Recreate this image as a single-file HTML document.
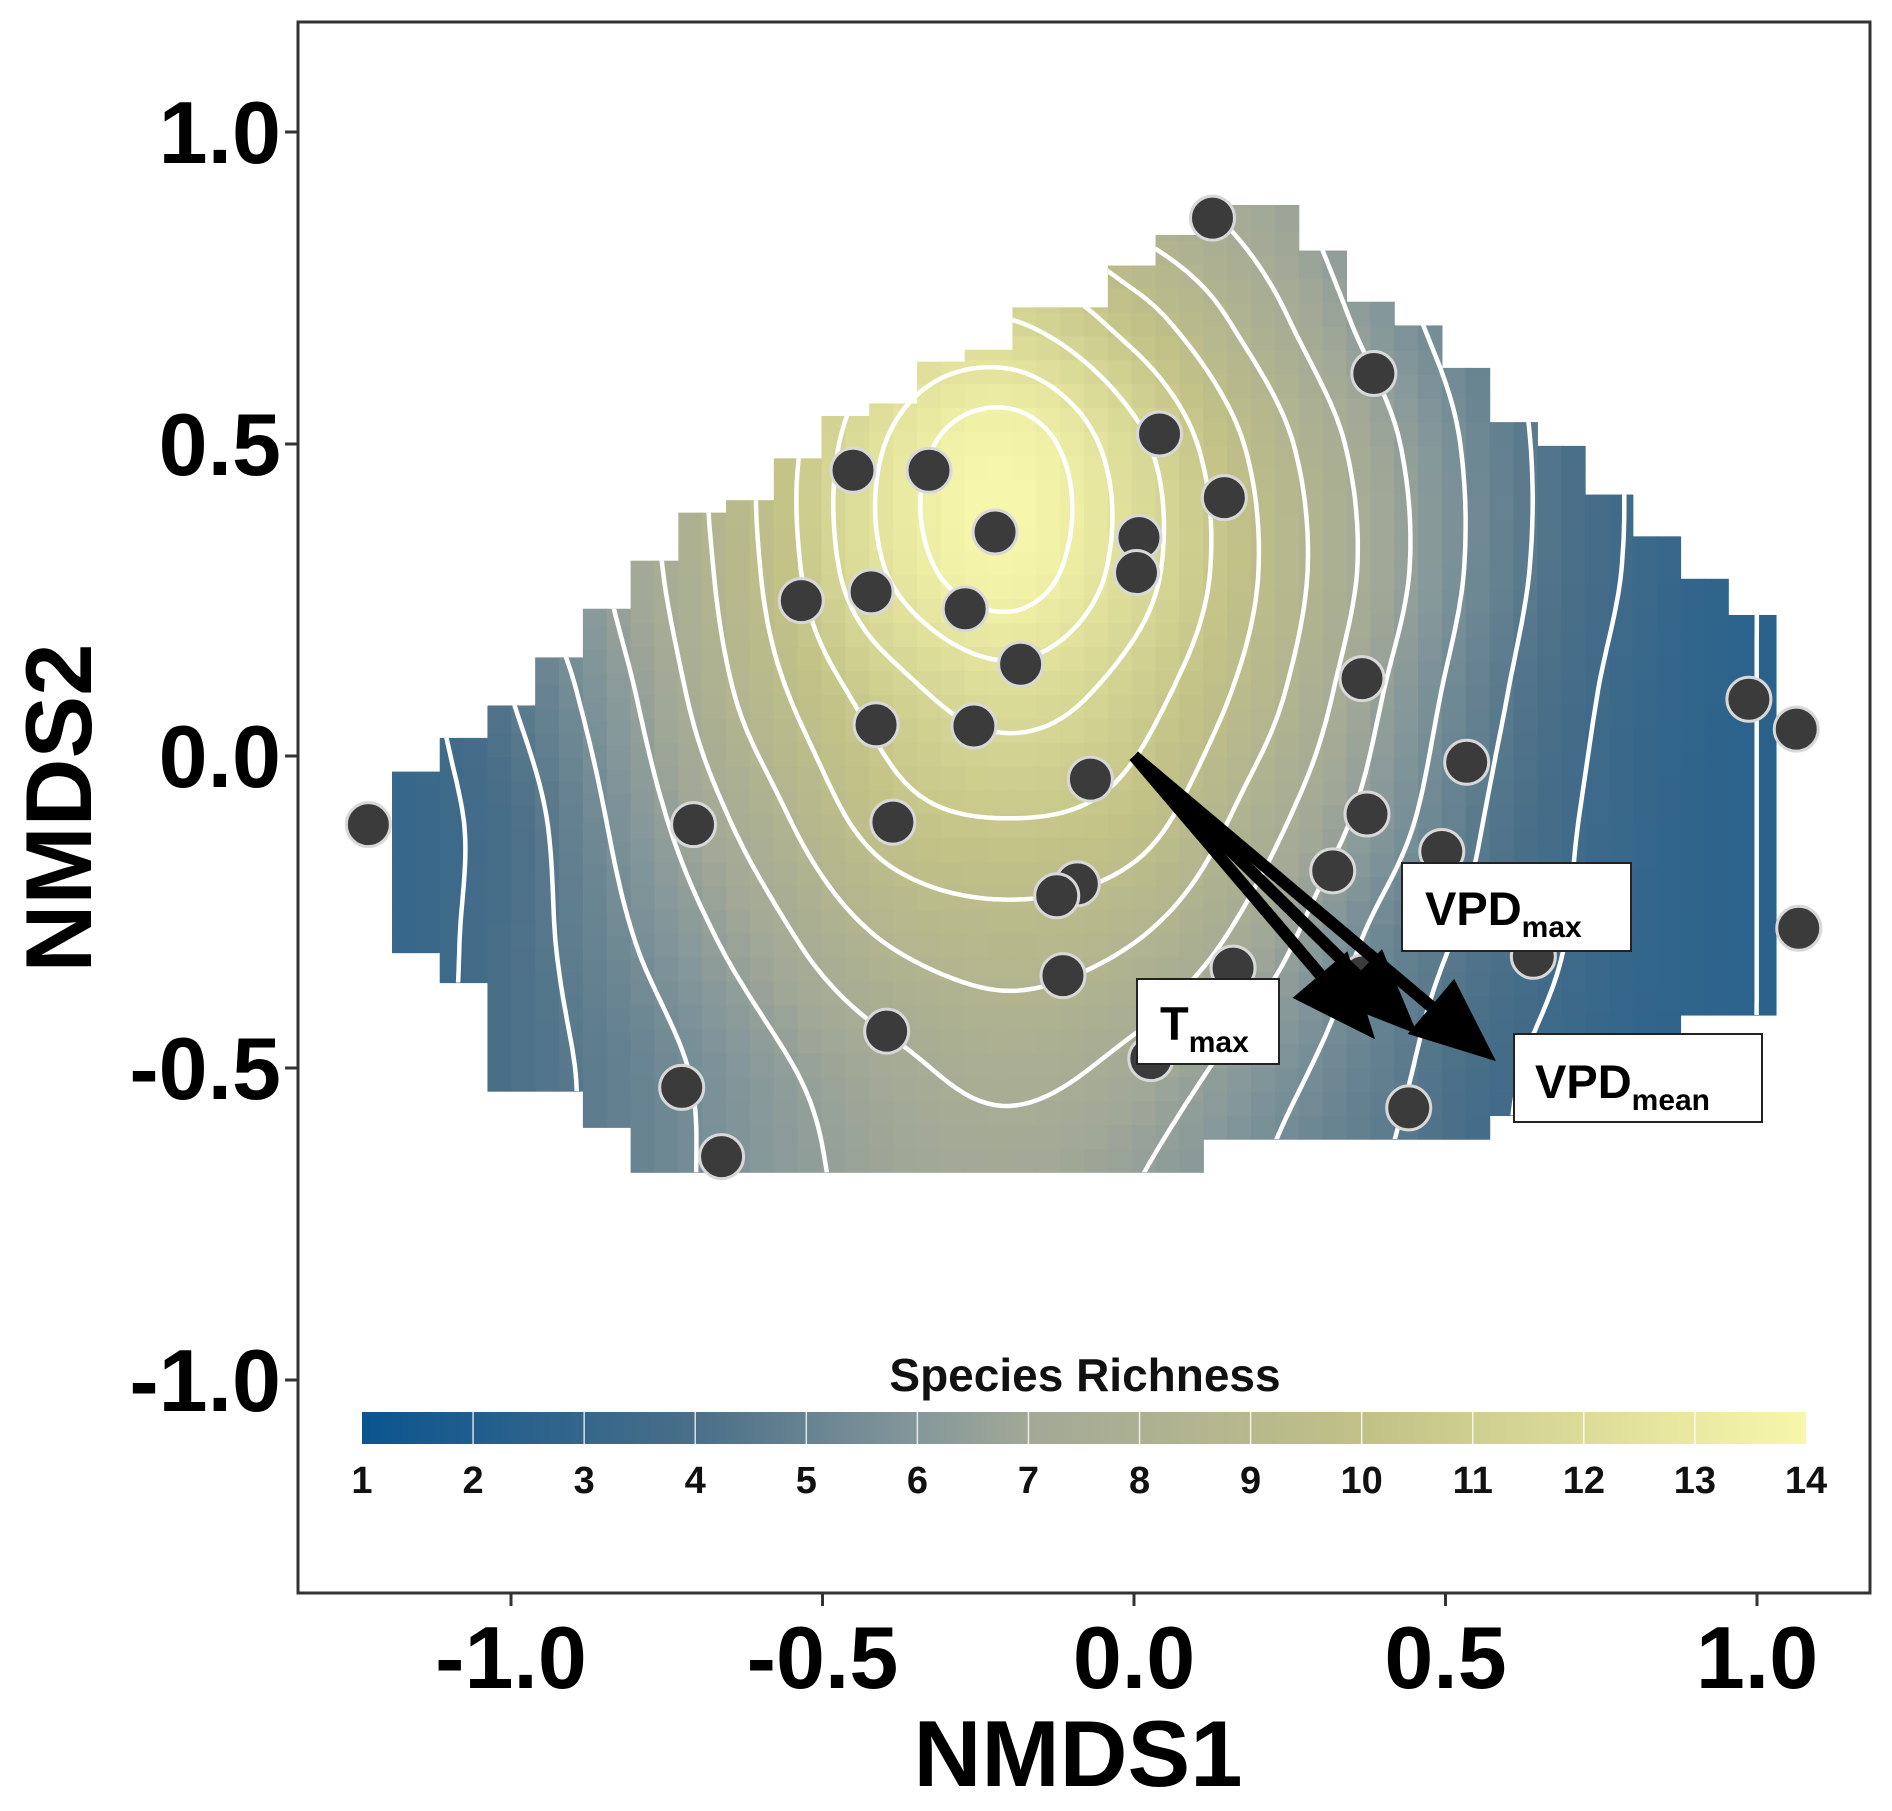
<!DOCTYPE html>
<html><head><meta charset="utf-8"><style>
html,body{margin:0;padding:0;background:#fff;}
svg{display:block;font-family:"Liberation Sans",Arial,sans-serif;}
</style></head><body>
<svg id="chart" width="1892" height="1811" viewBox="0 0 1892 1811" xmlns="http://www.w3.org/2000/svg">
<defs>
<linearGradient id="cbar" x1="0" x2="1" y1="0" y2="0">
<stop offset="0" stop-color="#0b5590"/>
<stop offset="0.2308" stop-color="#4a6f88"/>
<stop offset="0.3846" stop-color="#84979a"/>
<stop offset="0.4615" stop-color="#a2a897"/>
<stop offset="0.6923" stop-color="#c1c187"/>
<stop offset="1" stop-color="#f7f7ab"/>
</linearGradient>
<clipPath id="regionClip"><path id="regionClipPath" d=""/></clipPath>
</defs>
<rect x="298" y="22" width="1572" height="1571" fill="#fff"/>
<g id="tiles"></g>
<g id="contours" clip-path="url(#regionClip)"></g>
<g id="points"></g>
<g id="arrows"></g>
<g>
<rect x="1137" y="979" width="142" height="85" fill="#fff" stroke="#222" stroke-width="2"/>
<text x="1160" y="1040" font-size="47" font-weight="bold">T<tspan font-size="30" dy="12">max</tspan></text>
</g>
<g>
<rect x="1402" y="863" width="229" height="88" fill="#fff" stroke="#222" stroke-width="2"/>
<text x="1425" y="925" font-size="47" font-weight="bold">VPD<tspan font-size="30" dy="12">max</tspan></text>
</g>
<g>
<rect x="1514" y="1034" width="248" height="88" fill="#fff" stroke="#222" stroke-width="2"/>
<text x="1535" y="1098" font-size="47" font-weight="bold">VPD<tspan font-size="30" dy="12">mean</tspan></text>
</g>
<g>
<text x="1085" y="1391" font-size="46" font-weight="bold" text-anchor="middle" fill="#111">Species Richness</text>
<rect x="362" y="1412" width="1444" height="32" fill="url(#cbar)"/>
<g id="cbticks"></g>
</g>
<rect x="298" y="22" width="1572" height="1571" fill="none" stroke="#333" stroke-width="3"/>
<g id="axes"></g>
<text x="1078" y="1786" font-size="94" font-weight="bold" text-anchor="middle">NMDS1</text>
<text transform="translate(91,808) rotate(-90)" font-size="94" font-weight="bold" text-anchor="middle">NMDS2</text>
</svg>
<script>
const xTicks=[-1.0,-0.5,0.0,0.5,1.0];
const yTicks=[1.0,0.5,0.0,-0.5,-1.0];
const tickLabels=["-1.0","-0.5","0.0","0.5","1.0"];
const yTickLabels=["1.0","0.5","0.0","-0.5","-1.0"];
const cbTicks=[1,2,3,4,5,6,7,8,9,10,11,12,13,14];
const ptX=[-1.229,-0.707,-0.451,-0.329,-0.223,-0.534,-0.422,-0.271,-0.182,-0.414,-0.257,-0.387,-0.070,-0.091,-0.124,-0.114,-0.397,-0.726,-0.662,0.126,0.385,0.041,0.145,0.008,0.004,0.366,0.534,0.374,0.494,0.319,0.159,0.368,0.027,0.441,0.641,0.987,1.063,1.067];
const ptY=[-0.110,-0.110,0.458,0.458,0.359,0.249,0.263,0.236,0.147,0.050,0.048,-0.106,-0.037,-0.205,-0.224,-0.352,-0.441,-0.531,-0.642,0.862,0.613,0.516,0.414,0.350,0.294,0.124,-0.010,-0.093,-0.153,-0.184,-0.340,-0.354,-0.485,-0.564,-0.321,0.091,0.043,-0.276];
const arrowNames=["Tmax","VPDmax","VPDmean"];
const arrowX=[0.387,0.455,0.581];
const arrowY=[-0.454,-0.446,-0.489];
const gridX=[-1.2,-1.0,-0.8,-0.6,-0.4,-0.2,0,0.2,0.4,0.6,0.8,1.0,1.2];
const gridY=[0.9,0.7,0.5,0.3,0.1,-0.1,-0.3,-0.5,-0.7];
const gridVals=[
[3,4,5,7,9,9.5,8,7,5.5,4,3,2.5,2],
[3,4.5,6,8.5,11,11.5,10,8,6,4.5,3.2,2.5,2],
[3,4.5,7,9.5,12.5,13.8,11.8,9.2,6.8,4.8,3.4,2.5,2],
[3,5,7,9.5,12.5,13.8,12,9.5,7,4.8,3.4,2.5,2],
[3,4.5,6.5,9,11,12,11,9,6.5,4.5,3.2,2.5,2],
[3,4,6,8,10,10.5,10,8,6,4.2,3.1,2.5,2],
[3,4,5.5,7,8.5,9,8.5,7,5.2,4,3,2.5,2],
[3,4,5,6.2,7.2,7.8,7.2,6,4.8,3.6,2.9,2.5,2],
[3,4,5,6,6.8,7,6.5,5.5,4.5,3.5,2.8,2.5,2]];
const colStart=-1.191, colStep=0.0766;
const colTop=[-0.025,0.029,0.081,0.158,0.236,0.313,0.390,0.410,0.477,0.545,0.565,0.632,0.651,0.719,0.719,0.786,0.835,0.883,0.883,0.810,0.728,0.690,0.622,0.535,0.497,0.419,0.352,0.284,0.226];
const colBot=[-0.315,-0.363,-0.537,-0.537,-0.595,-0.667,-0.667,-0.667,-0.667,-0.667,-0.667,-0.667,-0.667,-0.667,-0.667,-0.667,-0.667,-0.614,-0.614,-0.614,-0.614,-0.614,-0.614,-0.576,-0.528,-0.528,-0.528,-0.415,-0.415];
const contourLevels=[2.5,3.5,4.5,5.5,6.5,7.5,8.5,9.5,10.5,11.5,12.5,13.3];

const NS="http://www.w3.org/2000/svg";
const sx=x=>1134+623*x, sy=y=>756-624*y;
const cx=v=>362+(v-1)/13*1444;
function mk(tag,attrs,parent){const e=document.createElementNS(NS,tag);for(const k in attrs)e.setAttribute(k,attrs[k]);parent.appendChild(e);return e;}
const stops=[[1,[11,85,144]],[4,[74,111,136]],[6,[132,151,154]],[7,[162,168,151]],[10,[193,193,135]],[14,[247,247,171]]];
function col(v){v=Math.max(1,Math.min(14,v));for(let i=0;i<stops.length-1;i++){const a=stops[i],b=stops[i+1];if(v<=b[0]){const t=(v-a[0])/(b[0]-a[0]);return "rgb("+a[1].map((c,j)=>Math.round(c+(b[1][j]-c)*t)).join(",")+")";}}return "rgb(247,247,171)";}
function cub(p0,p1,p2,p3,t){return p1+0.5*t*(p2-p0+t*(2*p0-5*p1+4*p2-p3+t*(3*(p1-p2)+p3-p0)));}
function g(j,i){j=Math.max(0,Math.min(gridY.length-1,j));i=Math.max(0,Math.min(gridX.length-1,i));return gridVals[j][i];}
function val(x,y){
  let fx=(x-gridX[0])/0.2, fy=(gridY[0]-y)/0.2;
  fx=Math.max(0,Math.min(gridX.length-1.0001,fx)); fy=Math.max(0,Math.min(gridY.length-1.0001,fy));
  const i=Math.floor(fx), j=Math.floor(fy), tx=fx-i, ty=fy-j;
  const r=[];for(let m=-1;m<=2;m++)r.push(cub(g(j+m,i-1),g(j+m,i),g(j+m,i+1),g(j+m,i+2),tx));
  return cub(r[0],r[1],r[2],r[3],ty);
}
function inside(x,y){const k=Math.floor((x-colStart)/colStep);if(k<0||k>=colTop.length)return false;return y<=colTop[k]+0.02&&y>=colBot[k]-0.02;}
const tg=document.getElementById("tiles");
let clipD="";
for(let k=0;k<colTop.length;k++){
  const x0=colStart+k*colStep;
  clipD+="M"+sx(x0)+","+sy(colTop[k])+"H"+(sx(x0+colStep)+0.5)+"V"+sy(colBot[k])+"H"+sx(x0)+"Z";
  for(let h=0;h<2;h++){
    const xa=x0+h*colStep/2;
    for(let y=colBot[k];y<colTop[k]-1e-6;y+=colStep/2){
      const yb=Math.min(colTop[k],y+colStep/2);
      const r=mk("rect",{x:sx(xa),y:sy(yb),width:colStep/2*623+0.6,height:(yb-y)*624+0.6,fill:col(val(xa+colStep/4,(y+yb)/2))},tg);
      
      
    }
  }
}
document.getElementById("regionClipPath").setAttribute("d",clipD);
const cg=document.getElementById("contours");
const st=0.012, x0g=-1.22, y0g=-0.70, nx=Math.ceil((1.06-x0g)/st), ny=Math.ceil((0.92-y0g)/st);
const V=[];for(let j=0;j<=ny;j++){V.push([]);for(let i=0;i<=nx;i++)V[j].push(val(x0g+i*st,y0g+j*st));}
contourLevels.forEach(L0=>{
  const L=L0+0.0013;
  let d="";
  for(let j=0;j<ny;j++)for(let i=0;i<nx;i++){
    const xs=x0g+i*st, ys=y0g+j*st;
    if(!inside(xs+st/2,ys+st/2))continue;
    const c=[[xs,ys,V[j][i]],[xs+st,ys,V[j][i+1]],[xs+st,ys+st,V[j+1][i+1]],[xs,ys+st,V[j+1][i]]];
    const pts=[];
    for(let e=0;e<4;e++){const p=c[e],q=c[(e+1)%4];if((p[2]-L)*(q[2]-L)<0){const t=(L-p[2])/(q[2]-p[2]);pts.push([p[0]+(q[0]-p[0])*t,p[1]+(q[1]-p[1])*t]);}}
    for(let m=0;m+1<pts.length;m+=2)d+="M"+sx(pts[m][0]).toFixed(1)+","+sy(pts[m][1]).toFixed(1)+"L"+sx(pts[m+1][0]).toFixed(1)+","+sy(pts[m+1][1]).toFixed(1);
  }
  const p=mk("path",{d:d,stroke:"#fff","stroke-width":4.5,fill:"none","stroke-linecap":"round"},cg);
  
  
});
const pg=document.getElementById("points");
for(let i=0;i<ptX.length;i++){
  const c=mk("circle",{cx:sx(ptX[i]),cy:sy(ptY[i]),r:22,fill:"#3b3b3b",stroke:"#d8d8d8","stroke-width":3},pg);
  
  
}
const ag=document.getElementById("arrows");
for(let i=0;i<arrowX.length;i++){
  const x1=sx(0),y1=sy(0),x2=sx(arrowX[i]),y2=sy(arrowY[i]);
  const dx=x2-x1,dy=y2-y1,len=Math.hypot(dx,dy),ux=dx/len,uy=dy/len,px=-uy,py=ux;
  const hl=85,hw=36,bx=x2-ux*hl,by=y2-uy*hl;
  const gr=mk("g",{},ag);
  
  
  mk("line",{x1:x1,y1:y1,x2:bx,y2:by,stroke:"#000","stroke-width":12},gr);
  mk("polygon",{points:x2+","+y2+" "+(bx+px*hw)+","+(by+py*hw)+" "+(bx-px*hw)+","+(by-py*hw),fill:"#000"},gr);
}
const axg=document.getElementById("axes");
xTicks.forEach((t,i)=>{
  mk("line",{x1:sx(t),x2:sx(t),y1:1593,y2:1606,stroke:"#333","stroke-width":3},axg);
  const tx=mk("text",{x:sx(t),y:1688,"font-size":88,"font-weight":"bold","text-anchor":"middle"},axg);
  tx.textContent=tickLabels[i];
  
  
});
yTicks.forEach((t,i)=>{
  mk("line",{x1:285,x2:298,y1:sy(t),y2:sy(t),stroke:"#333","stroke-width":3},axg);
  const tx=mk("text",{x:281,y:sy(t)+31,"font-size":88,"font-weight":"bold","text-anchor":"end"},axg);
  tx.textContent=yTickLabels[i];
  
  
});
const cbg=document.getElementById("cbticks");
cbTicks.forEach(v=>{
  if(v>1&&v<14)mk("line",{x1:cx(v),x2:cx(v),y1:1412,y2:1444,stroke:"#fff","stroke-width":1.5,"stroke-opacity":0.8},cbg);
  const tx=mk("text",{x:cx(v),y:1493,"font-size":38,"font-weight":"bold","text-anchor":"middle",fill:"#111"},cbg);
  tx.textContent=String(v);
  
  
});
</script>
</body></html>
